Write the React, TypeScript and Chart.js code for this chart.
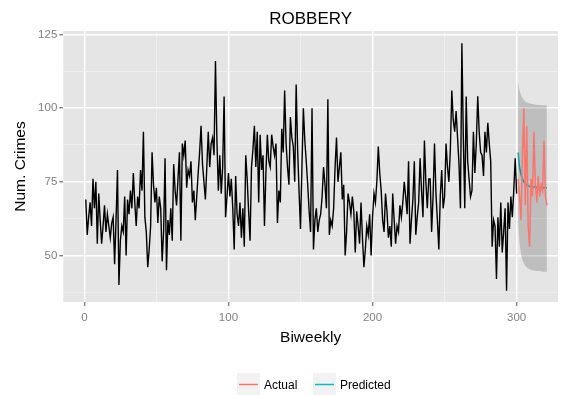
import React, { useEffect, useRef } from "react";
import { Chart, registerables } from "chart.js";

Chart.register(...registerables);

// ---------- data ----------
const observedStartX = 1;
const observed = [
  69, 57, 63, 68, 60, 76, 66, 75, 54, 71,
  62, 54, 60, 67, 58, 64, 60, 56, 61, 63,
  47, 62, 79, 40, 55, 60, 58, 70, 50, 69,
  64, 72, 66, 78, 68, 60, 70, 66, 79, 72,
  92, 63, 58, 46, 52, 60, 85, 74, 68, 73,
  61, 70, 66, 48, 58, 83, 45, 62, 57, 66,
  55, 81, 72, 67, 76, 85, 55, 88, 84, 89,
  73, 79, 77, 82, 68, 72, 62, 70, 78, 85,
  94, 81, 75, 69, 80, 92, 80, 88, 90, 84,
  116, 89, 72, 84, 71, 80, 104, 63, 70, 78,
  70, 76, 66, 52, 77, 64, 60, 68, 56, 66,
  53, 84, 76, 65, 55, 80, 86, 94, 80, 92,
  68, 91, 79, 84, 60, 78, 91, 82, 80, 91,
  87, 84, 88, 61, 72, 68, 93, 85, 106, 88,
  80, 74, 97, 90, 87, 75, 108, 86, 72, 59,
  80, 100, 89, 82, 74, 65, 58, 100, 52, 62,
  66, 58, 62, 64, 70, 80, 74, 66, 103, 57,
  62, 60, 66, 80, 90, 75, 80, 85, 69, 74,
  50, 58, 71, 68, 64, 70, 65, 51, 65, 60,
  54, 68, 56, 46, 52, 60, 57, 64, 50, 63,
  71, 68, 75, 87, 78, 72, 62, 58, 71, 65,
  56, 60, 53, 71, 62, 54, 60, 58, 67, 63,
  68, 75, 70, 64, 82, 54, 62, 69, 82, 57,
  63, 68, 83, 72, 63, 89, 75, 66, 76, 76,
  58, 70, 88, 71, 62, 52, 70, 79, 66, 70,
  88, 80, 75, 86, 106, 96, 92, 99, 90, 81,
  66, 122, 90, 66, 104, 82, 76, 70, 72, 92,
  78, 88, 104, 92, 85, 84, 77, 92, 85, 95,
  88, 82, 53, 62, 60, 42, 63, 53, 68, 51,
  58, 66, 38, 68, 59, 70, 63, 72, 83, 71,
];

const forecastStartX = 301;
const actual = [76, 70, 62, 84, 100, 67, 94, 60, 53, 76, 70, 92, 74, 68, 77, 70, 74, 72, 89, 70, 67];
const predicted = [85, 80, 77.5, 76, 75, 74.4, 74, 73.7, 73.5, 73.4, 73.3, 73.2, 73.2, 73.1, 73.1, 73, 73, 73, 73, 73, 73];
const upperBound = [109, 106, 104.5, 103.5, 102.8, 102.3, 102, 101.8, 101.6, 101.5, 101.4, 101.3, 101.2, 101.2, 101.1, 101.1, 101, 101, 101, 101, 101];
const lowerBound = [61, 54, 50.5, 48.5, 47.3, 46.5, 46, 45.6, 45.3, 45.1, 45, 44.9, 44.8, 44.7, 44.7, 44.6, 44.6, 44.5, 44.5, 44.5, 44.5];

const xMajorTicks = [0, 100, 200, 300];
const xMinorTicks = [50, 150, 250];
const yMajorTicks = [50, 75, 100, 125];
const yMinorTicks = [37.5, 62.5, 87.5, 112.5];

const titleText = "ROBBERY";
const xTitle = "Biweekly";
const yTitle = "Num. Crimes";
const legendLabels = ["Actual", "Predicted"];

// ---------- styles ----------
const FONT = "'Liberation Sans', Arial, sans-serif";
const RED = "#F8766D";
const TEAL = "#00BFC4";
const PANEL_BG = "#E5E5E5";
const MINOR_GRID = "#F2F2F2";
const TICK_GRAY = "#7F7F7F";

const toPoints = (start: number, arr: number[]) => arr.map((v, i) => ({ x: start + i, y: v }));

const decorPlugin = {
  id: "decor",
  beforeDraw(chart: any) {
    const { ctx, chartArea } = chart;
    ctx.save();
    ctx.fillStyle = PANEL_BG;
    ctx.fillRect(chartArea.left, chartArea.top, chartArea.right - chartArea.left, chartArea.bottom - chartArea.top);
    ctx.restore();
  },
  afterDraw(chart: any) {
    const { ctx, chartArea } = chart;
    const cx = (chartArea.left + chartArea.right) / 2;
    const cy = (chartArea.top + chartArea.bottom) / 2;
    ctx.save();
    ctx.fillStyle = "#000";
    ctx.textAlign = "center";
    ctx.textBaseline = "middle";
    ctx.font = `17px ${FONT}`;
    ctx.fillText(titleText, cx, 19);
    ctx.font = `15.5px ${FONT}`;
    ctx.fillText(xTitle, cx, 338);
    ctx.save();
    ctx.translate(21, cy);
    ctx.rotate(-Math.PI / 2);
    ctx.fillText(yTitle, 0, 0);
    ctx.restore();

    // legend
    const boxY = 373;
    const boxS = 23;
    const textY = 386;
    const items = [
      { bx: 237, tx: 264, color: RED, label: legendLabels[0] },
      { bx: 313, tx: 340, color: TEAL, label: legendLabels[1] },
    ];
    ctx.font = `12px ${FONT}`;
    ctx.textAlign = "left";
    items.forEach((it) => {
      ctx.fillStyle = MINOR_GRID;
      ctx.fillRect(it.bx, boxY, boxS, boxS);
      ctx.strokeStyle = it.color;
      ctx.lineWidth = 1.5;
      ctx.beginPath();
      ctx.moveTo(it.bx + 2, boxY + boxS / 2);
      ctx.lineTo(it.bx + boxS - 2, boxY + boxS / 2);
      ctx.stroke();
      ctx.fillStyle = "#000";
      ctx.fillText(it.label, it.tx, textY);
    });
    ctx.restore();
  },
};

export default function App() {
  const canvasRef = useRef<HTMLCanvasElement | null>(null);

  useEffect(() => {
    if (!canvasRef.current) return;
    const isMajorX = (v: number) => xMajorTicks.includes(v);
    const isMajorY = (v: number) => yMajorTicks.includes(v);

    const chart = new Chart(canvasRef.current, {
      type: "line",
      data: {
        datasets: [
          {
            label: "Actual",
            data: toPoints(forecastStartX, actual),
            borderColor: RED,
            borderWidth: 1.5,
            pointRadius: 0,
            fill: false,
            order: 0,
          },
          {
            label: "lower",
            data: toPoints(forecastStartX, lowerBound),
            borderWidth: 0,
            borderColor: "rgba(0,0,0,0)",
            pointRadius: 0,
            fill: false,
            order: 1,
          },
          {
            label: "upper",
            data: toPoints(forecastStartX, upperBound),
            borderWidth: 0,
            borderColor: "rgba(0,0,0,0)",
            backgroundColor: "rgba(0,0,0,0.17)",
            pointRadius: 0,
            fill: "-1",
            order: 1,
          },
          {
            label: "Predicted",
            data: toPoints(forecastStartX, predicted),
            borderColor: TEAL,
            borderWidth: 1.5,
            pointRadius: 0,
            fill: false,
            order: 2,
          },
          {
            label: "Observed",
            data: toPoints(observedStartX, observed),
            borderColor: "#000000",
            borderWidth: 1.4,
            pointRadius: 0,
            fill: false,
            order: 3,
          },
        ],
      },
      options: {
        animation: false,
        responsive: true,
        maintainAspectRatio: false,
        layout: { padding: { left: 0, right: 11, top: 31, bottom: 0 } },
        plugins: { legend: { display: false }, tooltip: { enabled: false }, title: { display: false } },
        elements: { line: { tension: 0 } },
        scales: {
          x: {
            type: "linear",
            min: -14.6,
            max: 328.7,
            afterBuildTicks: (s: any) => {
              s.ticks = [...xMinorTicks, ...xMajorTicks].sort((a, b) => a - b).map((v) => ({ value: v }));
            },
            afterFit: (s: any) => {
              s.height = 93;
            },
            border: { display: false },
            grid: {
              color: (c: any) => (isMajorX(c.tick?.value) ? "#FFFFFF" : MINOR_GRID),
              lineWidth: (c: any) => (isMajorX(c.tick?.value) ? 1.4 : 0.7),
              tickColor: (c: any) => (isMajorX(c.tick?.value) ? TICK_GRAY : "rgba(0,0,0,0)"),
              tickLength: 4,
              drawTicks: true,
            },
            ticks: {
              autoSkip: false,
              maxRotation: 0,
              padding: 5,
              color: TICK_GRAY,
              font: { family: FONT, size: 11.5 },
              callback: (v: any) => (isMajorX(Number(v)) ? String(v) : ""),
            },
          },
          y: {
            type: "linear",
            min: 34.2,
            max: 126.2,
            afterBuildTicks: (s: any) => {
              s.ticks = [...yMinorTicks, ...yMajorTicks].sort((a, b) => a - b).map((v) => ({ value: v }));
            },
            afterFit: (s: any) => {
              s.width = 63.3;
            },
            border: { display: false },
            grid: {
              color: (c: any) => (isMajorY(c.tick?.value) ? "#FFFFFF" : MINOR_GRID),
              lineWidth: (c: any) => (isMajorY(c.tick?.value) ? 1.4 : 0.7),
              tickColor: (c: any) => (isMajorY(c.tick?.value) ? TICK_GRAY : "rgba(0,0,0,0)"),
              tickLength: 4,
              drawTicks: true,
            },
            ticks: {
              autoSkip: false,
              padding: 2,
              color: TICK_GRAY,
              font: { family: FONT, size: 11.5 },
              callback: (v: any) => (isMajorY(Number(v)) ? String(v) : ""),
            },
          },
        },
      },
      plugins: [decorPlugin],
    } as any);

    return () => chart.destroy();
  }, []);

  return (
    <div style={{ position: "fixed", left: 0, top: 0, width: 569, height: 395, background: "#fff" }}>
      <canvas ref={canvasRef} />
    </div>
  );
}
